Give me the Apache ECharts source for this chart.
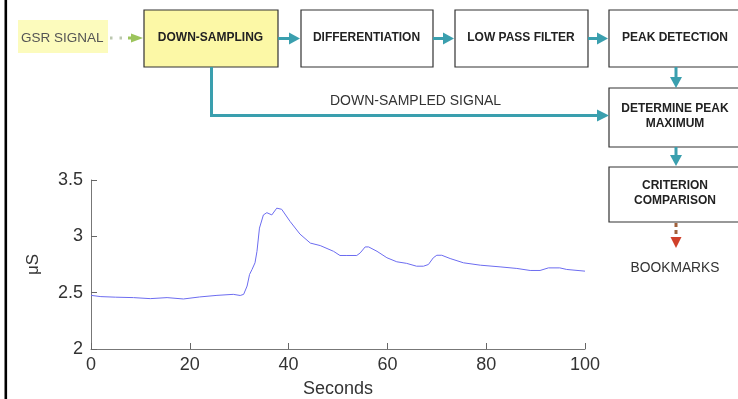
<!DOCTYPE html>
<html><head><meta charset="utf-8">
<script src="https://cdn.jsdelivr.net/npm/echarts@6/dist/echarts.min.js"></script>
<style>html,body{margin:0;padding:0;background:#fff}#c{width:738px;height:399px}</style>
</head><body><div id="c"></div>
<script>
// ---- data ----
const secs = [0, 2, 5, 8.6, 12, 15.4, 18.7, 22, 25.5, 28.8, 30.2, 30.9, 31.6, 32.1, 32.6, 33.2, 33.6, 34.1, 34.9, 35.6, 36.6, 36.9, 37.6, 38.6, 40.3, 42.3, 44.4, 46.4, 49.1, 50.4, 51.8, 53.8, 54.5, 55.5, 56.2, 57.9, 59.9, 61.9, 63.9, 65.9, 67.3, 68.3, 69.3, 70, 71, 72.7, 75.4, 78.8, 82.8, 86.2, 88.9, 90.9, 92.6, 94.9, 96.3, 100];
const gsr = [2.476, 2.465, 2.46, 2.456, 2.447, 2.456, 2.444, 2.462, 2.476, 2.485, 2.475, 2.485, 2.559, 2.662, 2.706, 2.765, 2.867, 3.073, 3.19, 3.21, 3.19, 3.176, 3.25, 3.24, 3.132, 3.02, 2.94, 2.918, 2.867, 2.83, 2.83, 2.83, 2.853, 2.906, 2.906, 2.867, 2.81, 2.774, 2.76, 2.735, 2.735, 2.75, 2.81, 2.832, 2.832, 2.803, 2.765, 2.744, 2.729, 2.715, 2.697, 2.697, 2.72, 2.72, 2.706, 2.691];
const xTicks = [0, 20, 40, 60, 80, 100];
const yTicks = [2, 2.5, 3, 3.5];
const xName = 'Seconds';
const yName = 'μS';
const boxLabels = ['DOWN-SAMPLING', 'DIFFERENTIATION', 'LOW PASS FILTER', 'PEAK DETECTION', 'DETERMINE PEAK\nMAXIMUM', 'CRITERION\nCOMPARISON'];
const inputLabel = 'GSR SIGNAL';
const sideLabel = 'DOWN-SAMPLED SIGNAL';
const outputLabel = 'BOOKMARKS';

// ---- layout ----
const FONT = '"Liberation Sans", Arial, sans-serif';
const TEAL = '#3a9fae';
const boxes = [
  {x:144, y:10, w:134, h:57, fill:'#fcf8a6'},
  {x:301, y:10, w:132, h:57},
  {x:455, y:10, w:133, h:57},
  {x:609, y:10, w:133, h:57},
  {x:609, y:88, w:133, h:59},
  {x:609, y:167, w:133, h:55}
];
const g = [];
g.push({type:'rect', shape:{x:4.5, y:-2, width:2.6, height:410}, style:{fill:'#000'}, z:10});
g.push({type:'rect', shape:{x:18, y:20, width:90, height:33}, style:{fill:'#fcfbbd'}});
g.push({type:'text', x:21, y:38, style:{text:inputLabel, font:'13.5px '+FONT, fill:'#555', textVerticalAlign:'middle'}});
boxes.forEach((b,i)=>{
  g.push({type:'rect', shape:{x:b.x, y:b.y, width:b.w, height:b.h}, style:{fill:b.fill||'#fff', stroke:'#333', lineWidth:1.2}});
  g.push({type:'text', x:b.x+b.w/2-0.5, y:b.y+b.h/2-1, style:{text:boxLabels[i], font:'bold 12px '+FONT, fill:'#222', textAlign:'center', textVerticalAlign:'middle', lineHeight:15}});
});
function hArrow(x1,x2,y,col){
  g.push({type:'line', shape:{x1:x1, y1:y, x2:x2-8, y2:y}, style:{stroke:col, lineWidth:3}});
  g.push({type:'polygon', shape:{points:[[x2-11,y-6],[x2,y],[x2-11,y+6]]}, style:{fill:col}});
}
function vArrow(x,y1,y2,col){
  g.push({type:'line', shape:{x1:x, y1:y1, x2:x, y2:y2-8}, style:{stroke:col, lineWidth:3}});
  g.push({type:'polygon', shape:{points:[[x-6,y2-11],[x,y2],[x+6,y2-11]]}, style:{fill:col}});
}
// dotted input arrow
g.push({type:'line', shape:{x1:110, y1:38, x2:128, y2:38}, style:{stroke:'#bcc8b0', lineWidth:3, lineDash:[2.5,7]}});
g.push({type:'polygon', shape:{points:[[131,33.5],[143,38],[131,42.5]]}, style:{fill:'#9cc45c'}});
g.push({type:'line', shape:{x1:128, y1:38, x2:134, y2:38}, style:{stroke:'#9cc45c', lineWidth:3}});
hArrow(278, 300, 38.5, TEAL);
hArrow(433, 454, 38.5, TEAL);
hArrow(588, 608, 38.5, TEAL);
vArrow(676, 67, 88, TEAL);
vArrow(676, 147, 166, TEAL);
// down-sampled path
g.push({type:'polyline', shape:{points:[[211.5,67],[211.5,115.5],[598,115.5]]}, style:{stroke:TEAL, lineWidth:3, fill:null}});
g.push({type:'polygon', shape:{points:[[597,109.5],[609,115.5],[597,121.5]]}, style:{fill:TEAL}});
g.push({type:'text', x:330, y:101, style:{text:sideLabel, font:'14px '+FONT, fill:'#333', textVerticalAlign:'middle'}});
// output arrow
g.push({type:'line', shape:{x1:676, y1:223, x2:676, y2:238}, style:{stroke:'#a0603a', lineWidth:3, lineDash:[4,3]}});
g.push({type:'polygon', shape:{points:[[670.5,237],[676,248],[681.5,237]]}, style:{fill:'#d0402a'}});
g.push({type:'text', x:675, y:268.5, style:{text:outputLabel, font:'13.8px '+FONT, fill:'#333', textAlign:'center', textVerticalAlign:'middle'}});

const chart = echarts.init(document.getElementById('c'));
chart.setOption({
  animation:false,
  grid:{left:91, top:180, width:494, height:170},
  xAxis:{type:'value', min:xTicks[0], max:xTicks[xTicks.length-1], interval:xTicks[1]-xTicks[0],
    name:xName, nameLocation:'middle', nameGap:31, nameTextStyle:{fontSize:18, color:'#333', fontFamily:FONT},
    axisLine:{lineStyle:{color:'#777', width:1}}, axisTick:{inside:true, length:6, lineStyle:{color:'#666'}},
    axisLabel:{fontSize:18, color:'#333', fontFamily:FONT, margin:7}, splitLine:{show:false}},
  yAxis:{type:'value', min:yTicks[0], max:yTicks[yTicks.length-1], interval:yTicks[1]-yTicks[0],
    name:yName, nameLocation:'middle', nameGap:49, nameTextStyle:{fontSize:17, color:'#333', fontFamily:FONT},
    axisLine:{show:true, lineStyle:{color:'#777', width:1}}, axisTick:{show:true, inside:true, length:6, lineStyle:{color:'#666'}},
    axisLabel:{fontSize:18, color:'#333', fontFamily:FONT, margin:8}, splitLine:{show:false}},
  series:[{type:'line', data:secs.map((s,i)=>[s,gsr[i]]), showSymbol:false, lineStyle:{color:'#6c6cf0', width:1}}],
  graphic:g
});
</script></body></html>
